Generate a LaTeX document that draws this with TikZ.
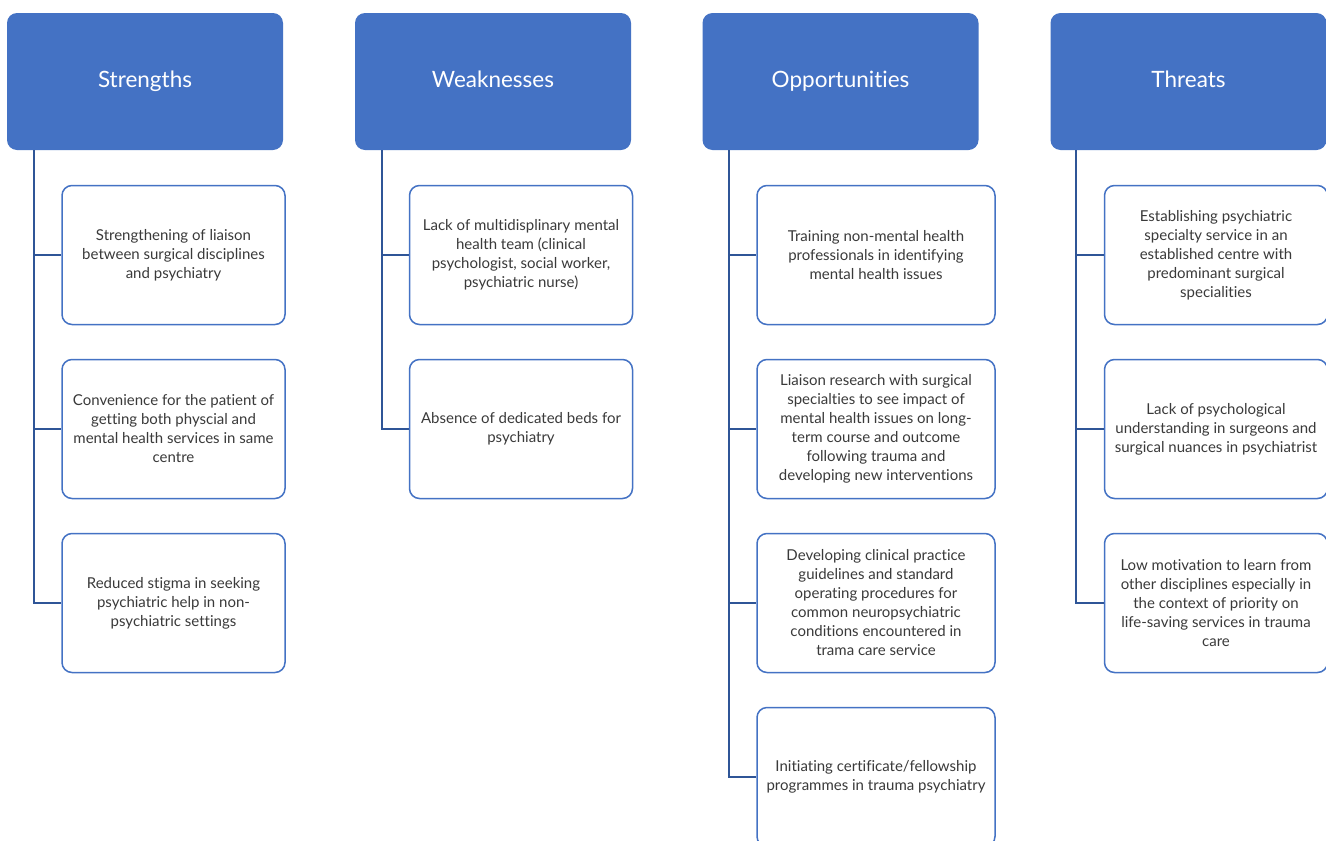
\documentclass[tikz,border=0pt]{standalone}
\usepackage{fontspec}
\setmainfont{Lato}[Ligatures=NoCommon]
\usetikzlibrary{positioning}

\definecolor{swotblue}{HTML}{4472C4}
\definecolor{linkblue}{HTML}{2F5597}
\definecolor{txtgray}{HTML}{3A3A3A}

\tikzset{
  head/.style={fill=swotblue, rounded corners=10pt, minimum width=276pt, minimum height=137pt,
    inner sep=0pt, text height=16pt, text depth=5pt, text=white, font=\fontsize{22.5}{26}\selectfont},
  item/.style={draw=swotblue, line width=1.5pt, rounded corners=10pt, fill=white,
    minimum width=223pt, minimum height=139pt, inner sep=0pt, align=center,
    text=txtgray, font=\fontsize{15}{19}\selectfont},
  wide/.style={minimum width=238pt},
  link/.style={draw=linkblue, line width=1.8pt}
}

\begin{document}
\begin{tikzpicture}[x=1pt, y=-1pt]

 \clip (0,0) rectangle (1326,841);
 \fill[white] (0,0) rectangle (1326,841);

 %%%%%%%%%% Headers %%%%%%%%%%
 \node[head] (hS) at (145,81.5)    {Strengths};
 \node[head] (hW) at (493,81.5)    {Weaknesses};
 \node[head] (hO) at (840.5,81.5)  {Opportunities};
 \node[head] (hT) at (1188.5,81.5) {Threats};

 %%%%%%%%%% Strengths %%%%%%%%%%
 \node[item] (s1) at (173.5,255) {Strengthening of liaison\\between surgical disciplines\\and psychiatry};
 \node[item] (s2) at (173.5,429) {Convenience for the patient of\\getting both physcial and\\mental health services in same\\centre};
 \node[item] (s3) at (173.5,603) {Reduced stigma in seeking\\psychiatric help in non-\\psychiatric settings};

 %%%%%%%%%% Weaknesses %%%%%%%%%%
 \node[item] (w1) at (521,255) {Lack of multidisplinary mental\\health team (clinical\\psychologist, social worker,\\psychiatric nurse)};
 \node[item] (w2) at (521,429) {Absence of dedicated beds for\\psychiatry};

 %%%%%%%%%% Opportunities %%%%%%%%%%
 \node[item, wide] (o1) at (876,255) {Training non-mental health\\professionals in identifying\\mental health issues};
 \node[item, wide] (o2) at (876,429) {Liaison research with surgical\\specialties to see impact of\\mental health issues on long-\\term course and outcome\\following trauma and\\developing new interventions};
 \node[item, wide] (o3) at (876,603) {Developing clinical practice\\guidelines and standard\\operating procedures for\\common neuropsychiatric\\conditions encountered in\\trama care service};
 \node[item, wide] (o4) at (876,777) {Initiating certificate/fellowship\\programmes in trauma psychiatry};

 %%%%%%%%%% Threats %%%%%%%%%%
 \node[item] (t1) at (1216,255) {Establishing psychiatric\\specialty service in an\\established centre with\\predominant surgical\\specialities};
 \node[item] (t2) at (1216,429) {Lack of psychological\\understanding in surgeons and\\surgical nuances in psychiatrist};
 \node[item] (t3) at (1216,603) {Low motivation to learn from\\other disciplines especially in\\the context of priority on\\life-saving services in trauma\\care};

 %%%%%%%%%% Links %%%%%%%%%%
 \foreach \k in {s1,s2,s3} \draw[link] ([xshift=27pt]hS.south west) |- (\k.west);
 \foreach \k in {w1,w2} \draw[link] ([xshift=27pt]hW.south west) |- (\k.west);
 \foreach \k in {o1,o2,o3,o4} \draw[link] ([xshift=27pt]hO.south west) |- (\k.west);
 \foreach \k in {t1,t2,t3} \draw[link] ([xshift=26pt]hT.south west) |- (\k.west);

\end{tikzpicture}
\end{document}
